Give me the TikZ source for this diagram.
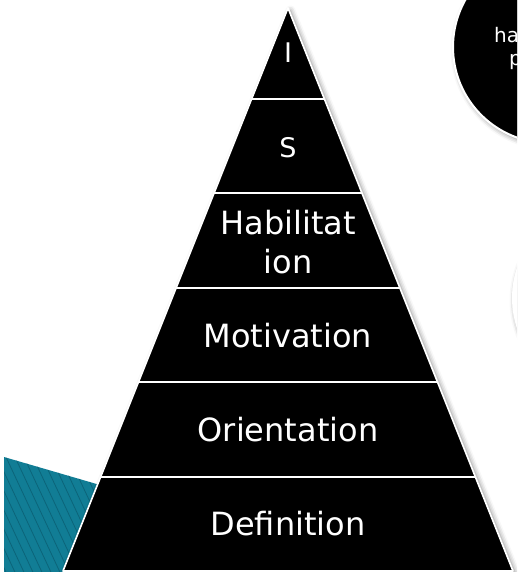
\documentclass[tikz,border=0pt]{standalone}
\usepackage{fontspec}
\setmainfont{DejaVu Sans}
\usetikzlibrary{shadows.blur}
\definecolor{tealbase}{HTML}{117D95}
\definecolor{tealdark}{HTML}{0C6479}
\begin{document}
\begin{tikzpicture}[x=1pt,y=-1pt,
  slab/.style={fill=black,draw=white,line width=1.6pt,line join=round},
  lbl/.style={text=white,font=\fontsize{32}{39}\selectfont,align=center,inner sep=0pt},
  lblsmall/.style={text=white,font=\fontsize{27}{32}\selectfont,inner sep=0pt},
  bubbletext/.style={text=white,font=\fontsize{20}{24}\selectfont,inner sep=0pt},
  softshadow/.style={blur shadow={shadow xshift=2.5pt,shadow yshift=-2.5pt,shadow blur radius=5pt,shadow opacity=45}}]
\useasboundingbox (0,0) rectangle (517,572);
\begin{scope}
\clip (0,0) rectangle (517,572);
% teal striped shape
\fill[tealbase] (4,457) -- (100,485) -- (62,573) -- (4,573) -- cycle;
\begin{scope}
  \clip (4,457) -- (100,485) -- (62,573) -- (4,573) -- cycle;
  \foreach \i in {-14,...,14} {
    \draw[tealdark,line width=0.8pt] (\i*9-20,440) -- ++(75,160);
  }
\end{scope}
% right circles
\node[circle,minimum size=190pt,fill=white,softshadow] (c2) at (607,298) {};
\node[circle,minimum size=192pt,fill=black,draw=white,line width=2pt,softshadow] (c1) at (549,47) {};
\node[bubbletext,anchor=base west] (h1) at (494,42.5) {ha};
\node[bubbletext,anchor=base west] (h2) at (509,66) {p};
% pyramid shadow base
\fill[white,softshadow] (288,8) -- (513,571) -- (63,571) -- cycle;
% slabs
\path[slab] (288,8) -- (324.4,99) -- (251.6,99) -- cycle;
\path[slab] (251.6,99) -- (324.4,99) -- (361.9,193) -- (214.1,193) -- cycle;
\path[slab] (214.1,193) -- (361.9,193) -- (399.9,288) -- (176.1,288) -- cycle;
\path[slab] (176.1,288) -- (399.9,288) -- (437.5,382) -- (138.5,382) -- cycle;
\path[slab] (138.5,382) -- (437.5,382) -- (475.4,477) -- (100.6,477) -- cycle;
\path[slab] (100.6,477) -- (475.4,477) -- (513,571) -- (63,571) -- cycle;
% labels
\node[lblsmall] (l1) at (288,53) {I};
\node[lblsmall] (l2) at (288,148) {S};
\node[lbl] (l3) at (288,242) {Habilitat\\ion};
\node[lbl] (l4) at (288,336) {Motivation};
\node[lbl] (l5) at (288,430) {Orientation};
\node[lbl] (l6) at (288,524) {Definition};
\end{scope}
\end{tikzpicture}
\end{document}
